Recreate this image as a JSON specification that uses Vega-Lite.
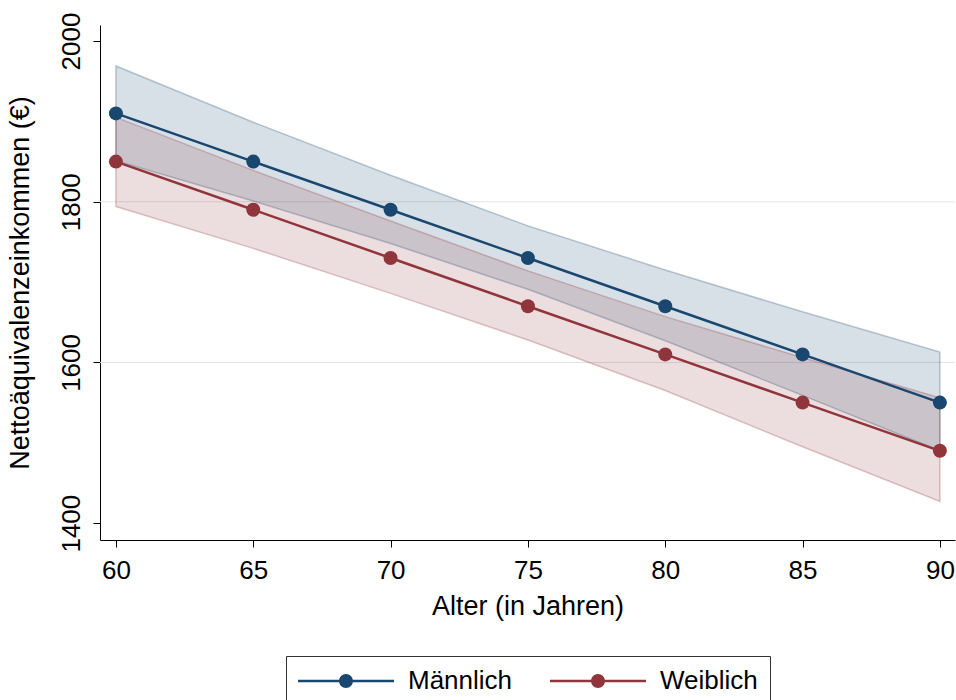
{
  "$schema": "https://vega.github.io/schema/vega-lite/v6.json",
  "width": 855,
  "height": 515,
  "autosize": {"type": "none"},
  "padding": {"left": 100, "top": 25, "right": 1, "bottom": 160},
  "background": "white",
  "config": {
    "view": {"stroke": null},
    "font": "Liberation Sans",
    "axis": {"labelFont": "Liberation Sans", "titleFont": "Liberation Sans", "labelColor": "black", "titleColor": "black", "domainColor": "black", "tickColor": "black", "labelFontSize": 26, "titleFontSize": 27, "titleFontWeight": "normal", "domainWidth": 1, "tickWidth": 1, "tickSize": 7, "grid": false}
  },
  "datasets": {
    "est": [
      {"alter": 60, "geschlecht": "Männlich", "wert": 1910, "ober": 1969, "unter": 1851},
      {"alter": 65, "geschlecht": "Männlich", "wert": 1850, "ober": 1899, "unter": 1801},
      {"alter": 70, "geschlecht": "Männlich", "wert": 1790, "ober": 1833, "unter": 1748},
      {"alter": 75, "geschlecht": "Männlich", "wert": 1730, "ober": 1770, "unter": 1691},
      {"alter": 80, "geschlecht": "Männlich", "wert": 1670, "ober": 1715, "unter": 1627},
      {"alter": 85, "geschlecht": "Männlich", "wert": 1610, "ober": 1663, "unter": 1559},
      {"alter": 90, "geschlecht": "Männlich", "wert": 1550, "ober": 1613, "unter": 1490},
      {"alter": 60, "geschlecht": "Weiblich", "wert": 1850, "ober": 1905, "unter": 1794},
      {"alter": 65, "geschlecht": "Weiblich", "wert": 1790, "ober": 1839, "unter": 1742},
      {"alter": 70, "geschlecht": "Weiblich", "wert": 1730, "ober": 1776, "unter": 1686},
      {"alter": 75, "geschlecht": "Weiblich", "wert": 1670, "ober": 1714, "unter": 1628},
      {"alter": 80, "geschlecht": "Weiblich", "wert": 1610, "ober": 1657, "unter": 1565},
      {"alter": 85, "geschlecht": "Weiblich", "wert": 1550, "ober": 1606, "unter": 1495},
      {"alter": 90, "geschlecht": "Weiblich", "wert": 1490, "ober": 1556, "unter": 1427}
    ],
    "grid": [{"y": 1600}, {"y": 1800}]
  },
  "data": {"name": "est"},
  "layer": [
    {
      "data": {"name": "grid"},
      "mark": {"type": "rule", "color": "#e3e3e3", "strokeWidth": 1},
      "encoding": {
        "y": {"field": "y", "type": "quantitative", "scale": {"domain": [1379, 2020], "nice": false, "zero": false},
              "axis": {"values": [1400, 1600, 1800, 2000], "format": "d", "labelAngle": -90, "labelPadding": 9, "titlePadding": 24, "title": "Nettoäquivalenzeinkommen (€)"}}
      }
    },
    {
      "mark": {"type": "area", "fillOpacity": 0.17, "strokeOpacity": 0.28, "strokeWidth": 1.5},
      "encoding": {
        "x": {"field": "alter", "type": "quantitative", "scale": {"domain": [59.42, 90.55], "nice": false, "zero": false},
              "axis": {"values": [60, 65, 70, 75, 80, 85, 90], "labelPadding": 10, "titlePadding": 10, "title": "Alter (in Jahren)"}},
        "y": {"field": "unter", "type": "quantitative"},
        "y2": {"field": "ober"},
        "color": {"field": "geschlecht", "type": "nominal", "scale": {"domain": ["Männlich", "Weiblich"], "range": ["#1a476f", "#90353b"]}},
        "stroke": {"field": "geschlecht", "type": "nominal", "scale": {"domain": ["Männlich", "Weiblich"], "range": ["#1a476f", "#90353b"]}, "legend": null}
      }
    },
    {
      "mark": {"type": "line", "strokeWidth": 2.5},
      "encoding": {
        "x": {"field": "alter", "type": "quantitative"},
        "y": {"field": "wert", "type": "quantitative"},
        "color": {"field": "geschlecht", "type": "nominal"}
      }
    },
    {
      "mark": {"type": "point", "filled": true, "opacity": 1, "size": 196, "shape": "circle"},
      "encoding": {
        "x": {"field": "alter", "type": "quantitative"},
        "y": {"field": "wert", "type": "quantitative"},
        "color": {"field": "geschlecht", "type": "nominal",
          "legend": {
            "title": null, "orient": "none", "legendX": 186, "legendY": 631, "direction": "horizontal",
            "symbolType": "M-4,-0.1H4V0.1H-4Z M-0.58,0A0.58,0.58,0,1,1,0.58,0A0.58,0.58,0,1,1,-0.58,0Z",
            "symbolSize": 576, "symbolStrokeWidth": 0, "symbolOpacity": 1,
            "labelFont": "Liberation Sans", "labelFontSize": 26, "labelColor": "black",
            "padding": 12, "strokeColor": "#333333", "fillColor": "white",
            "symbolOffset": 35, "labelOffset": 49, "columnPadding": 37,
            "encode": {"symbols": {"update": {"size": {"value": 576}, "fillOpacity": {"value": 1}, "opacity": {"value": 1}}}}
          }
        }
      }
    }
  ]
}
